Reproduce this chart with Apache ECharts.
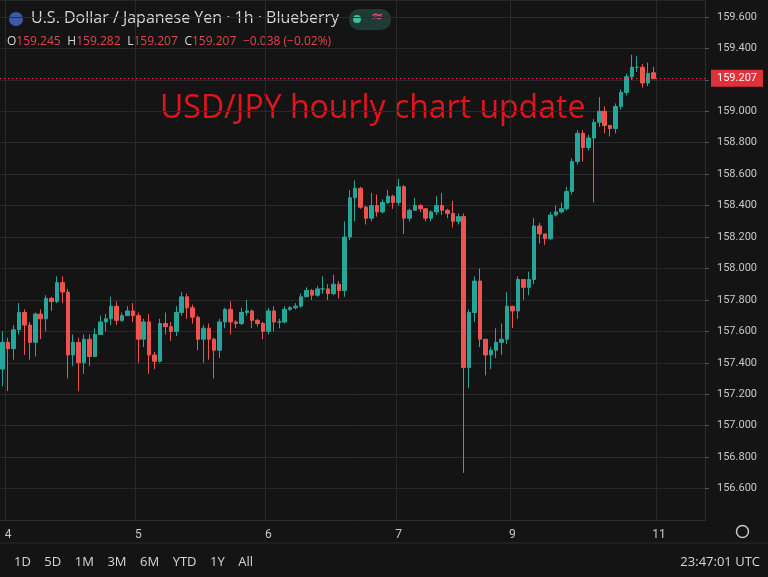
<!DOCTYPE html>
<html lang="en">
<head>
<meta charset="UTF-8">
<title>USD/JPY 1h</title>
<script src="https://cdn.jsdelivr.net/npm/echarts@6/dist/echarts.min.js"></script>
<style>html,body{margin:0;background:#141414;}</style>
</head>
<body>
<div id="main" style="width:768px;height:577px;"></div>
<script type="text/javascript">
// hourly closes
var closes = [157.53,157.49,157.61,157.72,157.64,157.53,157.71,157.68,157.81,157.79,
157.91,157.85,157.45,157.53,157.40,157.55,157.44,157.58,157.66,157.68,
157.76,157.67,157.70,157.73,157.70,157.55,157.66,157.45,157.41,157.65,
157.63,157.60,157.72,157.82,157.75,157.69,157.55,157.62,157.55,157.48,
157.66,157.74,157.66,157.65,157.72,157.73,157.67,157.65,157.60,157.73,
157.66,157.66,157.74,157.75,157.76,157.82,157.86,157.83,157.87,157.87,
157.84,157.90,157.86,158.20,158.45,158.51,158.39,158.32,158.40,158.36,
158.42,158.46,158.42,158.52,158.32,158.37,158.40,158.38,158.32,158.36,
158.40,158.37,158.35,158.30,158.33,157.37,157.72,157.92,157.55,157.45,
157.48,157.53,157.55,157.76,157.73,157.93,157.88,157.93,158.27,158.22,
158.19,158.34,158.36,158.38,158.49,158.68,158.86,158.77,158.83,158.93,
159.00,158.91,158.89,159.03,159.12,159.22,159.28,159.28,159.18,159.24,159.207];
var firstOpen = 157.36;
var lastOpen = 159.245;
var highs = [157.60,157.56,157.64,157.78,157.74,157.66,157.72,157.74,157.83,157.82,
157.95,157.95,157.87,157.58,157.56,157.58,157.58,157.62,157.70,157.71,
157.82,157.79,157.72,157.76,157.78,157.72,157.68,157.71,157.47,157.68,
157.72,157.66,157.76,157.85,157.84,157.77,157.70,157.64,157.65,157.56,
157.68,157.75,157.79,157.67,157.75,157.80,157.74,157.68,157.66,157.75,
157.76,157.68,157.76,157.76,157.78,157.84,157.88,157.87,157.89,157.95,
157.90,157.96,157.92,158.30,158.50,158.56,158.52,158.40,158.48,158.47,
158.44,158.50,158.47,158.57,158.53,158.38,158.45,158.41,158.38,158.37,
158.46,158.48,158.38,158.43,158.35,158.35,157.74,157.95,158.00,157.55,
157.50,157.62,157.65,157.85,157.76,157.95,157.93,157.98,158.32,158.29,
158.22,158.36,158.40,158.42,158.52,158.70,158.88,158.88,158.85,158.95,
159.09,159.03,158.91,159.05,159.14,159.24,159.36,159.35,159.30,159.31,159.282];
var lows = [157.25,157.22,157.42,157.58,157.45,157.42,157.44,157.55,157.60,157.73,
157.78,157.78,157.30,157.38,157.22,157.33,157.38,157.44,157.58,157.60,
157.64,157.64,157.66,157.70,157.66,157.40,157.50,157.33,157.36,157.40,
157.58,157.54,157.57,157.70,157.68,157.65,157.48,157.40,157.42,157.30,
157.43,157.62,157.58,157.62,157.64,157.70,157.62,157.63,157.55,157.58,
157.60,157.62,157.65,157.73,157.74,157.75,157.82,157.80,157.82,157.84,
157.80,157.83,157.81,157.82,158.18,158.30,158.38,158.28,158.30,158.33,
158.35,158.41,158.38,158.40,158.22,158.30,158.38,158.36,158.30,158.30,
158.34,158.34,158.32,158.26,158.28,156.70,157.24,157.66,157.50,157.32,
157.36,157.43,157.45,157.52,157.62,157.68,157.80,157.83,157.90,158.16,
158.15,158.18,158.33,158.35,158.37,158.47,158.66,158.68,158.75,158.42,
158.90,158.86,158.84,158.86,159.01,159.10,159.20,159.25,159.15,159.16,159.207];
// day labels by candle index
var dayLabels = {1:"4", 25:"5", 49:"6", 73:"7", 94:"9", 121:"11"};
var slotCount = 130;

var cats = [];
for (var i = 0; i < slotCount; i++) cats.push(i);
var candles = [];
for (var i = 0; i < closes.length; i++) {
    var o = i === 0 ? firstOpen : (i === closes.length - 1 ? lastOpen : closes[i - 1]);
    candles.push([o, closes[i], lows[i], highs[i]]);
}
function isDay(idx) { return dayLabels[idx] !== undefined; }

var myChart = echarts.init(document.getElementById("main"));
var option = {
    backgroundColor: "#141414",
    animation: false,
    grid: {left: 0, right: 63, top: 0, bottom: 57},
    xAxis: {
        type: "category",
        data: cats,
        axisLine: {show: true, lineStyle: {color: "#2e2e2e"}},
        axisTick: {show: false},
        axisLabel: {
            interval: function (idx) { return isDay(idx); },
            formatter: function (v) { return dayLabels[v] || ""; },
            color: "#c8c8c8", fontSize: 12, fontFamily: "Roboto", margin: 9
        },
        splitLine: {show: true, interval: function (idx) { return isDay(idx); }, lineStyle: {color: "#2a2a2a"}}
    },
    yAxis: {
        type: "value",
        position: "right",
        min: 156.4,
        max: 159.708,
        interval: 0.2,
        axisLine: {show: true, lineStyle: {color: "#2e2e2e"}},
        axisTick: {show: true, length: 4, lineStyle: {color: "#555"}},
        axisLabel: {
            showMinLabel: false, showMaxLabel: false,
            formatter: function (v) { return v.toFixed(3); },
            color: "#c8c8c8", fontSize: 11, fontFamily: "Roboto", margin: 12
        },
        splitLine: {lineStyle: {color: "#2a2a2a"}}
    },
    graphic: [
        {type: "circle", left: 9, top: 12, shape: {r: 7}, style: {fill: "#3c5aa8"}},
        {type: "text", left: 31, top: 10, style: {text: "U.S. Dollar / Japanese Yen · 1h · Blueberry", fill: "#d6d6d6", font: "16px 'Open Sans'"}},
        {type: "rect", left: 349, top: 9, shape: {width: 42, height: 21, r: 10}, style: {fill: "#1f3b33"}},
        {type: "circle", left: 353, top: 15, shape: {r: 4}, style: {fill: "#3fbfa0"}},
        {type: "text", left: 371, top: 10, style: {text: "≈", fill: "#e0457b", font: "bold 15px 'DejaVu Sans'"}},
        {type: "text", left: 7, top: 36, style: {
            text: "{k|O}{v|159.245}  {k|H}{v|159.282}  {k|L}{v|159.207}  {k|C}{v|159.207}  {v|−0.038 (−0.02%)}",
            rich: {k: {fill: "#d6d6d6", font: "12px 'Open Sans'"}, v: {fill: "#e0454f", font: "12px 'Open Sans'"}}
        }},
        {type: "text", left: 160, top: 93, style: {text: "USD/JPY hourly chart update", fill: "#e3141c", font: "32px 'Open Sans'"}},
        {type: "line", shape: {x1: 0, y1: 543, x2: 768, y2: 543}, style: {stroke: "#2a2a2a"}},
        {type: "text", left: 14, top: 556, style: {text: "1D    5D    1M    3M    6M    YTD    1Y    All", fill: "#d6d6d6", font: "13px 'Open Sans'"}},
        {type: "text", right: 8, top: 556, style: {text: "23:47:01 UTC", fill: "#d6d6d6", font: "13px 'Open Sans'"}},
        {type: "circle", left: 734, top: 523, shape: {r: 6}, style: {fill: "none", stroke: "#c8c8c8", lineWidth: 1.5}}
    ],
    series: [{
        type: "candlestick",
        data: candles,
        barWidth: 4,
        itemStyle: {
            color: "#26a69a", color0: "#ef5350",
            borderColor: "#26a69a", borderColor0: "#ef5350"
        },
        markLine: {
            symbol: "none",
            silent: true,
            data: [{yAxis: 159.207}],
            lineStyle: {color: "#ef5350", type: [1, 3], width: 1},
            label: {
                position: "end", formatter: "159.207", color: "#fff",
                backgroundColor: "#e0303a", padding: [3, 6], fontSize: 11, fontFamily: "Roboto",
                distance: 6
            }
        }
    }]
};
myChart.setOption(option);
</script>
</body>
</html>
